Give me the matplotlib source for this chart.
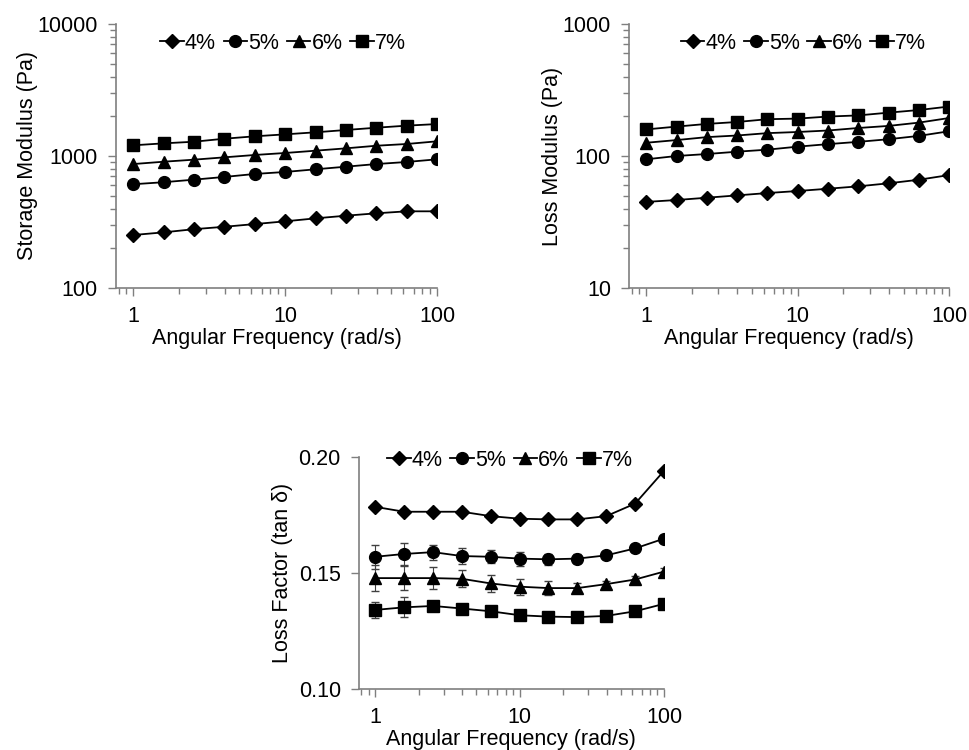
import matplotlib
matplotlib.use("Agg")
import matplotlib.pyplot as plt
import numpy as np
from matplotlib.ticker import LogLocator, FixedLocator, FixedFormatter, NullFormatter

plt.rcParams['font.family'] = ['Liberation Sans', 'DejaVu Sans']

freq = [1, 1.585, 2.512, 3.981, 6.31, 10, 15.85, 25.12, 39.81, 63.1, 100]
labels = ["4%", "5%", "6%", "7%"]
markers = ["D", "o", "^", "s"]
msizes = [7, 8.5, 8.5, 8]

# storage modulus G' (Pa)
g1_4 = [252, 264, 279, 291, 305, 320, 337, 353, 368, 381, 381]
g1_5 = [611, 633, 662, 694, 731, 757, 793, 830, 869, 901, 944]
g1_6 = [869, 905, 938, 977, 1018, 1054, 1097, 1143, 1196, 1233, 1292]
g1_7 = [1205, 1247, 1283, 1352, 1410, 1459, 1512, 1574, 1638, 1698, 1746]

# loss modulus G'' (Pa)
g2_4 = [44.9, 46.4, 48.3, 50.3, 52.4, 54.3, 56.5, 58.9, 62.1, 66.1, 71.7]
g2_5 = [94.4, 100, 103.5, 107.8, 111.7, 117.7, 123, 128, 134, 142, 154]
g2_6 = [126, 132, 139, 143, 149, 152, 156, 163, 169, 179, 194]
g2_7 = [159, 167, 175, 181, 190, 192, 199, 203, 213, 223, 237]

# loss factor tan delta
td_4 = [0.1785, 0.1764, 0.1764, 0.1764, 0.1745, 0.1734, 0.1731, 0.1731, 0.1745, 0.1799, 0.194]
td_5 = [0.157, 0.1582, 0.159, 0.1573, 0.157, 0.1562, 0.1559, 0.1562, 0.1576, 0.1606, 0.1648]
td_6 = [0.1478, 0.1478, 0.1478, 0.1475, 0.1455, 0.1441, 0.1435, 0.1435, 0.1452, 0.1472, 0.1506]
td_7 = [0.1341, 0.1352, 0.1358, 0.1347, 0.1335, 0.1318, 0.1312, 0.131, 0.1315, 0.1335, 0.1367]
err_4 = [0.001, 0.001, 0.001, 0.001, 0.001, 0.001, 0.001, 0.001, 0.001, 0.001, 0.001]
err_5 = [0.0052, 0.0046, 0.0032, 0.0035, 0.0029, 0.003, 0.0025, 0.002, 0.0015, 0.0015, 0.0015]
err_6 = [0.0057, 0.0053, 0.0047, 0.0037, 0.0036, 0.0034, 0.003, 0.002, 0.0015, 0.0015, 0.0015]
err_7 = [0.0035, 0.0043, 0.002, 0.002, 0.002, 0.0015, 0.0015, 0.0015, 0.0015, 0.0015, 0.0015]

gray = "#7f7f7f"
fs = 15.5

fig = plt.figure(figsize=(9.7, 7.5), dpi=100)
ax1 = fig.add_axes([0.1196, 0.616, 0.331, 0.352])
ax2 = fig.add_axes([0.6485, 0.616, 0.33, 0.352])
ax3 = fig.add_axes([0.370, 0.0813, 0.3145, 0.3094])


def style(ax):
    ax.set_xscale("log")
    ax.set_xlim(0.77, 100)
    for s in ["top", "right"]:
        ax.spines[s].set_visible(False)
    for s in ["left", "bottom"]:
        ax.spines[s].set_color(gray)
        ax.spines[s].set_linewidth(1.2)
    ax.xaxis.set_major_locator(FixedLocator([1, 10, 100]))
    ax.xaxis.set_major_formatter(FixedFormatter(["1", "10", "100"]))
    ax.xaxis.set_minor_locator(LogLocator(base=10, subs=np.arange(2, 10)))
    ax.xaxis.set_minor_formatter(NullFormatter())
    ax.tick_params(which="major", direction="out", length=6, width=1, color=gray, labelsize=fs, pad=7)
    ax.tick_params(which="minor", direction="out", length=4, width=1, color=gray)
    ax.set_xlabel("Angular Frequency (rad/s)", fontsize=fs, labelpad=1)


def legend(ax, handles, x, y):
    ax.legend(handles, labels, loc="center", bbox_to_anchor=(x, y), ncol=4, frameon=False, fontsize=fs,
              handlelength=1.1, handletextpad=0.05, columnspacing=0.35, borderpad=0)


h1 = []
for ys, m, ms in zip([g1_4, g1_5, g1_6, g1_7], markers, msizes):
    h1 += ax1.plot(freq, ys, color="black", marker=m, markersize=ms, linewidth=1.3)
style(ax1)
ax1.set_yscale("log")
ax1.set_ylim(100, 10000)
ax1.yaxis.set_major_locator(FixedLocator([100, 1000, 10000]))
ax1.yaxis.set_major_formatter(FixedFormatter(["100", "1000", "10000"]))
ax1.yaxis.set_minor_locator(LogLocator(base=10, subs=np.arange(2, 10)))
ax1.yaxis.set_minor_formatter(NullFormatter())
ax1.set_ylabel("Storage Modulus (Pa)", fontsize=fs, labelpad=0)
legend(ax1, h1, 0.52, 0.928)

h2 = []
for ys, m, ms in zip([g2_4, g2_5, g2_6, g2_7], markers, msizes):
    h2 += ax2.plot(freq, ys, color="black", marker=m, markersize=ms, linewidth=1.3)
style(ax2)
ax2.set_yscale("log")
ax2.set_ylim(10, 1000)
ax2.yaxis.set_major_locator(FixedLocator([10, 100, 1000]))
ax2.yaxis.set_major_formatter(FixedFormatter(["10", "100", "1000"]))
ax2.yaxis.set_minor_locator(LogLocator(base=10, subs=np.arange(2, 10)))
ax2.yaxis.set_minor_formatter(NullFormatter())
ax2.set_ylabel("Loss Modulus (Pa)", fontsize=fs, labelpad=0)
legend(ax2, h2, 0.545, 0.928)

h3 = []
for ys, es, m, ms in zip([td_4, td_5, td_6, td_7], [err_4, err_5, err_6, err_7], markers, msizes):
    c = ax3.errorbar(freq, ys, yerr=es, color="black", ecolor="#404040", elinewidth=0.8, capsize=3,
                     marker=m, markersize=ms, linewidth=1.3)
    h3.append(c[0])
style(ax3)
ax3.set_ylim(0.10, 0.20)
ax3.yaxis.set_major_locator(FixedLocator([0.10, 0.15, 0.20]))
ax3.yaxis.set_major_formatter(FixedFormatter(["0.10", "0.15", "0.20"]))
ax3.set_ylabel("Loss Factor (tan δ)", fontsize=fs)
legend(ax3, h3, 0.495, 0.985)

fig.savefig("out.png", dpi=100)
